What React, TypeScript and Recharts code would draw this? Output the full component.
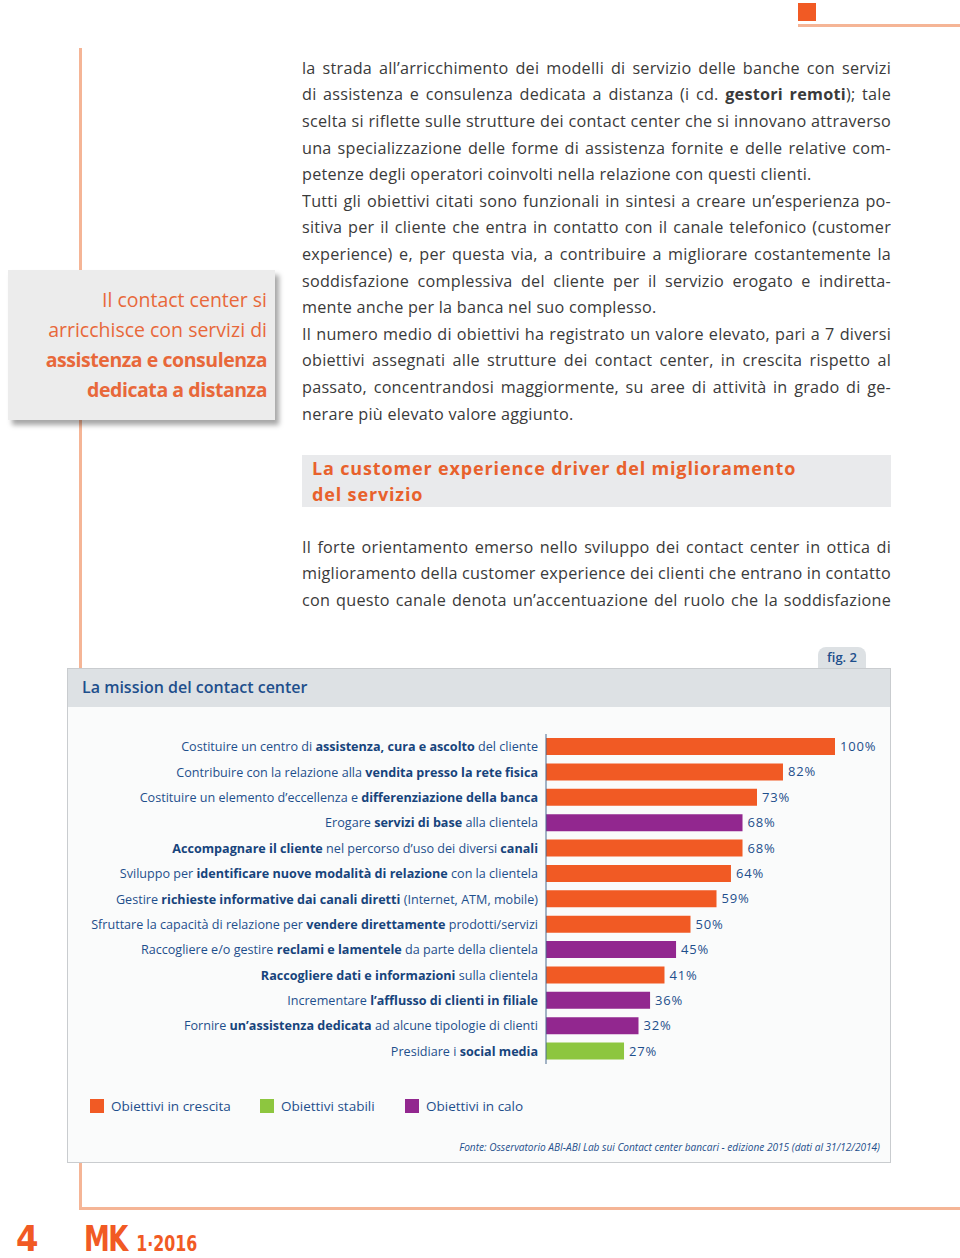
import React from "react";
import { BarChart, Bar, XAxis, YAxis, Cell, LabelList } from "recharts";

// testo con **grassetto** per le parti evidenziate
const categories = [
  "Costituire un centro di **assistenza, cura e ascolto** del cliente",
  "Contribuire con la relazione alla **vendita presso la rete fisica**",
  "Costituire un elemento d’eccellenza e **differenziazione della banca**",
  "Erogare **servizi di base** alla clientela",
  "**Accompagnare il cliente** nel percorso d’uso dei diversi **canali**",
  "Sviluppo per **identificare nuove modalità di relazione** con la clientela",
  "Gestire **richieste informative dai canali diretti** (Internet, ATM, mobile)",
  "Sfruttare la capacità di relazione per **vendere direttamente** prodotti/servizi",
  "Raccogliere e/o gestire **reclami e lamentele** da parte della clientela",
  "**Raccogliere dati e informazioni** sulla clientela",
  "Incrementare **l’afflusso di clienti in filiale**",
  "Fornire **un’assistenza dedicata** ad alcune tipologie di clienti",
  "Presidiare i **social media**",
];
const values = [100, 82, 73, 68, 68, 64, 59, 50, 45, 41, 36, 32, 27];
const trends = [
  "crescita", "crescita", "crescita", "calo", "crescita", "crescita", "crescita",
  "crescita", "calo", "crescita", "calo", "calo", "stabili",
];
const legendKeys = ["crescita", "stabili", "calo"];
const legendLabels = ["Obiettivi in crescita", "Obiettivi stabili", "Obiettivi in calo"];

const COLORS: Record<string, string> = {
  crescita: "#f15a24",
  stabili: "#8dc63f",
  calo: "#92278f",
};
const ORANGE = "#f15a24";
const LINE = "#f5b596";
const BLUE = "#1e4f8c";
const TEXT = "#3a3a3a";
const FONT = "'Open Sans', 'Noto Sans', sans-serif";
const NARROW = "'Liberation Sans Narrow', 'DejaVu Sans Condensed', sans-serif";

const bodyLines: [string, boolean][] = [
  ["la strada all’arricchimento dei modelli di servizio delle banche con servizi", false],
  ["di assistenza e consulenza dedicata a distanza (i cd. **gestori remoti**); tale", false],
  ["scelta si riflette sulle strutture dei contact center che si innovano attraverso", false],
  ["una specializzazione delle forme di assistenza fornite e delle relative com-", false],
  ["petenze degli operatori coinvolti nella relazione con questi clienti.", true],
  ["Tutti gli obiettivi citati sono funzionali in sintesi a creare un’esperienza po-", false],
  ["sitiva per il cliente che entra in contatto con il canale telefonico (customer", false],
  ["experience) e, per questa via, a contribuire a migliorare costantemente la", false],
  ["soddisfazione complessiva del cliente per il servizio erogato e indiretta-", false],
  ["mente anche per la banca nel suo complesso.", true],
  ["Il numero medio di obiettivi ha registrato un valore elevato, pari a 7 diversi", false],
  ["obiettivi assegnati alle strutture dei contact center, in crescita rispetto al", false],
  ["passato, concentrandosi maggiormente, su aree di attività in grado di ge-", false],
  ["nerare più elevato valore aggiunto.", true],
];
const secondLines = [
  "Il forte orientamento emerso nello sviluppo dei contact center in ottica di",
  "miglioramento della customer experience dei clienti che entrano in contatto",
  "con questo canale denota un’accentuazione del ruolo che la soddisfazione",
];

const data = categories.map((c, i) => ({ name: c, value: values[i], trend: trends[i] }));

function rich(s: string) {
  return s.split("**").map((p, i) =>
    i % 2 ? <b key={i}>{p}</b> : <React.Fragment key={i}>{p}</React.Fragment>
  );
}

function CategoryTick(props: any) {
  const { x, y, payload } = props;
  const parts = String(payload.value).split("**");
  return (
    <text x={x} y={y} dy={4.5} textAnchor="end" fill={BLUE} fontSize={12.6} fontFamily={FONT}>
      {parts.map((p, i) => (
        <tspan key={i} fontWeight={i % 2 ? 700 : 400} fill={i % 2 ? "#17447c" : BLUE}>{p}</tspan>
      ))}
    </text>
  );
}

function TextLine({ text, top, last }: { text: string; top: number; last: boolean }) {
  return (
    <div
      style={{
        position: "absolute",
        left: 302,
        top,
        width: 589,
        height: 26.6,
        lineHeight: "26.6px",
        fontSize: 16.2,
        letterSpacing: 0.25,
        wordSpacing: last ? 0 : -3,
        color: TEXT,
        textAlign: "justify",
        textAlignLast: last ? "left" : "justify",
        overflow: "hidden",
      }}
    >
      {rich(text)}
    </div>
  );
}

export default function App() {
  return (
    <div
      style={{
        position: "absolute",
        left: 0,
        top: 0,
        width: 960,
        height: 1258,
        background: "#fff",
        fontFamily: FONT,
        overflow: "hidden",
      }}
    >
      {/* segni grafici di pagina */}
      <div style={{ position: "absolute", left: 798, top: 3, width: 18, height: 18, background: ORANGE }} />
      <div style={{ position: "absolute", left: 798, top: 24, width: 162, height: 3, background: LINE }} />
      <div style={{ position: "absolute", left: 79, top: 48, width: 3, height: 1162, background: LINE }} />
      <div style={{ position: "absolute", left: 79, top: 1207, width: 881, height: 3, background: LINE }} />

      {/* box laterale */}
      <div
        style={{
          position: "absolute",
          left: 8,
          top: 270,
          width: 267,
          height: 150,
          background: "#ececec",
          boxShadow: "4px 5px 5px rgba(0,0,0,0.35)",
        }}
      >
        <div
          style={{
            position: "absolute",
            right: 8,
            top: 15,
            textAlign: "right",
            color: "#e8683a",
            fontSize: 19.5,
            lineHeight: "30px",
            whiteSpace: "nowrap",
          }}
        >
          <div>Il contact center si</div>
          <div>arricchisce con servizi di</div>
          <div style={{ fontWeight: 700, letterSpacing: -0.45 }}>assistenza e consulenza</div>
          <div style={{ fontWeight: 700, letterSpacing: -0.45 }}>dedicata a distanza</div>
        </div>
      </div>

      {bodyLines.map(([t, last], i) => (
        <TextLine key={i} text={t} top={54.7 + i * 26.6} last={last} />
      ))}

      {/* titoletto */}
      <div
        style={{
          position: "absolute",
          left: 302,
          top: 455,
          width: 589,
          height: 52,
          background: "#e9eaec",
        }}
      >
        <div
          style={{
            position: "absolute",
            left: 10,
            top: 0,
            color: "#e8612c",
            fontWeight: 700,
            fontSize: 18,
            letterSpacing: 0.85,
            lineHeight: "26px",
            whiteSpace: "nowrap",
          }}
        >
          <div>La customer experience driver del miglioramento</div>
          <div>del servizio</div>
        </div>
      </div>

      {secondLines.map((t, i) => (
        <TextLine key={i} text={t} top={533.7 + i * 26.6} last={false} />
      ))}

      {/* figura */}
      <div
        style={{
          position: "absolute",
          left: 818,
          top: 647,
          width: 48,
          height: 21,
          background: "#dde1e4",
          borderRadius: "8px 8px 0 0",
          color: BLUE,
          fontSize: 13,
          fontWeight: 600,
          textAlign: "center",
          lineHeight: "21px",
        }}
      >
        fig. 2
      </div>
      <div
        style={{
          position: "absolute",
          left: 67,
          top: 668,
          width: 822,
          height: 493,
          background: "#fafbfb",
          border: "1px solid #c9cccf",
        }}
      >
        <div
          style={{
            position: "absolute",
            left: 0,
            top: 0,
            width: 822,
            height: 38,
            background: "#dde1e4",
            color: BLUE,
            fontSize: 16,
            fontWeight: 600,
            lineHeight: "36px",
            paddingLeft: 14,
            boxSizing: "border-box",
          }}
        >
          La mission del contact center
        </div>

        <div style={{ position: "absolute", left: 2, top: 65 }}>
          <BarChart
            layout="vertical"
            width={815}
            height={330}
            data={data}
            margin={{ top: 0, right: 50, bottom: 0, left: 0 }}
            barSize={17}
          >
            <XAxis type="number" domain={[0, 100]} hide />
            <YAxis
              type="category"
              dataKey="name"
              width={476}
              axisLine={{ stroke: "#4a6a8f", strokeWidth: 1 }}
              tickLine={false}
              tick={<CategoryTick />}
              interval={0}
            />
            <Bar dataKey="value" isAnimationActive={false}>
              {data.map((d, i) => (
                <Cell key={i} fill={COLORS[d.trend]} />
              ))}
              <LabelList
                dataKey="value"
                position="right"
                offset={5}
                formatter={(v: any) => `${v}%`}
                fill={BLUE}
                fontSize={13}
                fontFamily={FONT}
                style={{ letterSpacing: 0.8 }}
              />
            </Bar>
          </BarChart>
        </div>

        {/* legenda */}
        {legendKeys.map((k, i) => (
          <div
            key={k}
            style={{
              position: "absolute",
              left: [22, 192, 337][i],
              top: 428,
              display: "flex",
              alignItems: "center",
              whiteSpace: "nowrap",
            }}
          >
            <div style={{ width: 14, height: 14, background: COLORS[k], marginRight: 7 }} />
            <span style={{ color: BLUE, fontSize: 13.5 }}>{legendLabels[i]}</span>
          </div>
        ))}

        <div
          style={{
            position: "absolute",
            right: 10,
            top: 471,
            color: BLUE,
            fontSize: 10.1,
            fontStyle: "italic",
            whiteSpace: "nowrap",
          }}
        >
          Fonte: Osservatorio ABI-ABI Lab sui Contact center bancari - edizione 2015 (dati al 31/12/2014)
        </div>
      </div>

      {/* piede di pagina */}
      <div
        style={{
          position: "absolute",
          left: 16,
          top: 1221,
          color: ORANGE,
          fontSize: 36,
          fontWeight: 700,
          fontFamily: NARROW,
          lineHeight: "36px",
        }}
      >
        4
      </div>
      <div
        style={{
          position: "absolute",
          left: 84,
          top: 1221,
          color: ORANGE,
          fontWeight: 700,
          fontFamily: NARROW,
          lineHeight: "36px",
          whiteSpace: "nowrap",
          transform: "scaleX(0.8)",
          transformOrigin: "left center",
        }}
      >
        <span style={{ fontSize: 36, letterSpacing: -2 }}>MK</span>
        <span style={{ fontSize: 22, marginLeft: 12 }}>1·2016</span>
      </div>
    </div>
  );
}
